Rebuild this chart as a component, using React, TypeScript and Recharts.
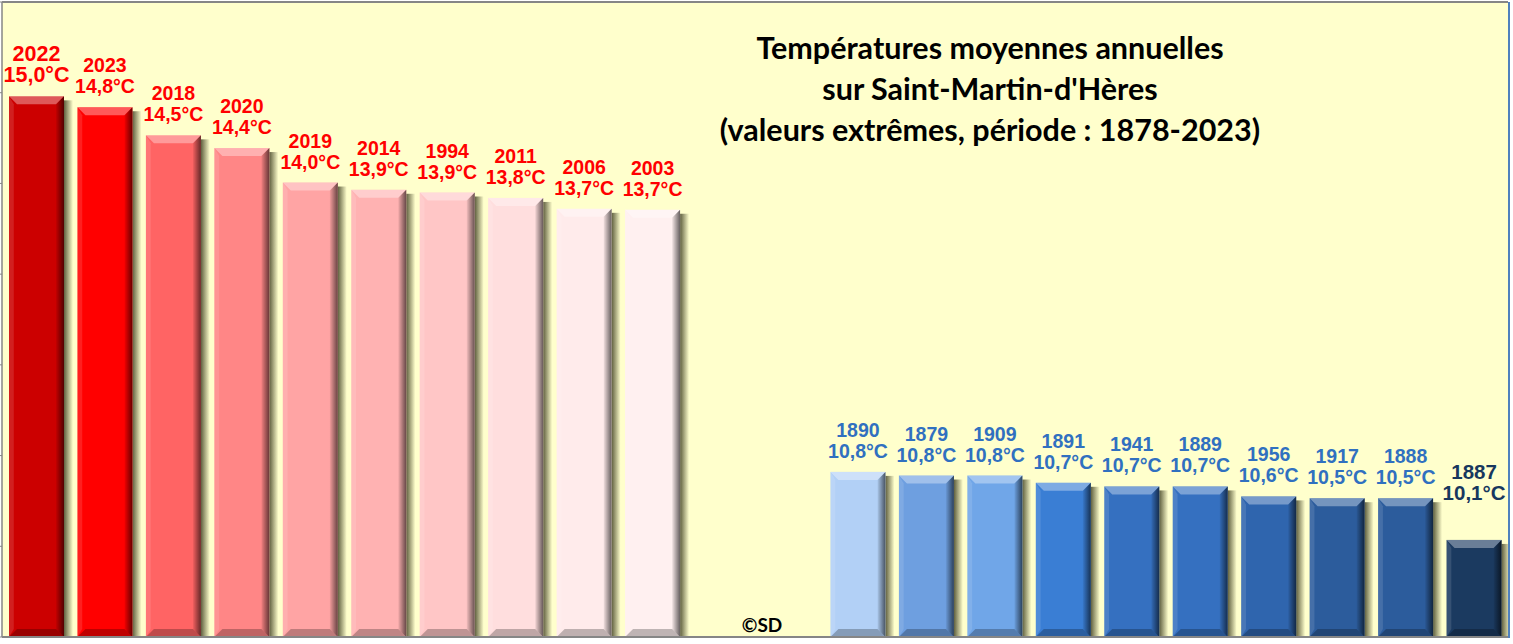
import {
  BarChart,
  Bar,
  XAxis,
  YAxis,
  CartesianGrid,
  Cell,
  LabelList,
  ReferenceLine,
} from "recharts";

// years ranked hottest -> coldest, two empty slots between the groups
const years = [
  "2022", "2023", "2018", "2020", "2019", "2014", "1994", "2011", "2006", "2003",
  "", "",
  "1890", "1879", "1909", "1891", "1941", "1889", "1956", "1917", "1888", "1887",
];

const temps = [
  14.96, 14.84, 14.53, 14.39, 14.01, 13.93, 13.9, 13.84, 13.72, 13.71,
  null, null,
  10.82, 10.78, 10.78, 10.7, 10.66, 10.66, 10.55, 10.53, 10.53, 10.07,
];

const tempLabels = [
  "15,0", "14,8", "14,5", "14,4", "14,0", "13,9", "13,9", "13,8", "13,7", "13,7",
  "", "",
  "10,8", "10,8", "10,8", "10,7", "10,7", "10,7", "10,6", "10,5", "10,5", "10,1",
];

const barColors = [
  "#CC0000", "#FF0000", "#FF6464", "#FF8686", "#FFA4A4", "#FFB2B2", "#FFC6C6", "#FFDEDE", "#FFEBEB", "#FFF0F0",
  "none", "none",
  "#B2D0F6", "#6E9FE0", "#70A6E8", "#3A7ED4", "#3570C0", "#3570C0", "#2F65AE", "#2C5C9C", "#2C5C9C", "#1B3A60",
];

const labelColors = [
  "#FF0000", "#FF0000", "#FF0000", "#FF0000", "#FF0000", "#FF0000", "#FF0000", "#FF0000", "#FF0000", "#FF0000",
  "none", "none",
  "#3070C0", "#3070C0", "#3070C0", "#3070C0", "#3070C0", "#3070C0", "#3070C0", "#3070C0", "#3070C0", "#17375E",
];

const yTicks = [9, 10, 11, 12, 13, 14, 15, 16];

const titleLines = [
  "Températures moyennes annuelles",
  "sur Saint-Martin-d'Hères",
  "(valeurs extrêmes, période : 1878-2023)",
];

const data = years.map((year, i) => ({
  key: year || `gap${i}`,
  temp: temps[i],
}));

const HOTTEST = 0;
const COLDEST = years.length - 1;

function BevelBar(props: any) {
  const { x, y, width: w, height: h, index, fill } = props;
  if (!h || h <= 0 || fill === "none") return null;
  const b = 8;
  const id = `sh${index}`;
  return (
    <g>
      <defs>
        <linearGradient id={id} x1="0" y1="0" x2="1" y2="0">
          <stop offset="0" stopColor="#2a2a10" stopOpacity={0.75} />
          <stop offset="1" stopColor="#2a2a10" stopOpacity={0} />
        </linearGradient>
        <linearGradient id={`${id}r`} x1="0" y1="0" x2="1" y2="0">
          <stop offset="0" stopColor="#000" stopOpacity={0.05} />
          <stop offset="1" stopColor="#000" stopOpacity={0.6} />
        </linearGradient>
      </defs>
      <rect x={x + w} y={y + 4} width={9} height={h - 4} fill={`url(#${id})`} />
      <rect x={x} y={y} width={w} height={h} fill={fill} />
      <polygon
        points={`${x},${y} ${x + w},${y} ${x + w - b},${y + b} ${x + b},${y + b}`}
        fill="#fff"
        fillOpacity={0.35}
      />
      <polygon
        points={`${x},${y} ${x + b * 0.6},${y + b} ${x + b * 0.6},${y + h - b} ${x},${y + h}`}
        fill="#fff"
        fillOpacity={0.12}
      />
      <polygon
        points={`${x + w},${y} ${x + w},${y + h} ${x + w - b},${y + h - b} ${x + w - b},${y + b}`}
        fill={`url(#${id}r)`}
      />
      <polygon
        points={`${x},${y + h} ${x + w},${y + h} ${x + w - b},${y + h - b} ${x + b},${y + h - b}`}
        fill="#000"
        fillOpacity={0.25}
      />
    </g>
  );
}

// LabelList skips the empty slots, so look the bar up by its year key
function TempLabel(props: any) {
  const { x, y, width, value } = props;
  const i = years.indexOf(String(value));
  if (i < 0 || !tempLabels[i]) return null;
  const cx = Number(x) + Number(width) / 2;
  const top = Number(y);
  const fs = i === HOTTEST ? 21.5 : i === COLDEST ? 20.5 : 19.5;
  const gap = i === COLDEST ? 40 : 14;
  return (
    <text
      textAnchor="middle"
      fill={labelColors[i]}
      fontFamily="'Liberation Sans', Arial, sans-serif"
      fontWeight="bold"
      fontSize={fs}
    >
      <tspan x={cx} y={top - gap - 21}>
        {years[i]}
      </tspan>
      <tspan x={cx} y={top - gap}>
        {tempLabels[i]}°C
      </tspan>
    </text>
  );
}

export default function App() {
  return (
    <div
      style={{
        position: "absolute",
        left: 0,
        top: 0,
        width: 1513,
        height: 644,
        background: "#fff",
      }}
    >
      <BarChart
        width={1513}
        height={644}
        data={data}
        margin={{ top: 2, right: 5, bottom: 6, left: 0 }}
      >
        <CartesianGrid fill="#FFFFCC" stroke="none" horizontal={false} vertical={false} />
        <XAxis
          dataKey="key"
          tick={false}
          tickLine={false}
          height={1}
          axisLine={{ stroke: "#868686", strokeWidth: 2 }}
        />
        <YAxis
          domain={[9, 16]}
          ticks={yTicks}
          allowDataOverflow
          width={2}
          tickSize={3}
          tickFormatter={() => ""}
          axisLine={{ stroke: "#868686", strokeWidth: 1.5 }}
          tickLine={{ stroke: "#868686" }}
        />
        <ReferenceLine y={16} stroke="#868686" strokeWidth={2} />
        <Bar dataKey="temp" barSize={55} shape={BevelBar} isAnimationActive={false}>
          {data.map((d, i) => (
            <Cell key={d.key} fill={barColors[i]} />
          ))}
          <LabelList dataKey="key" content={TempLabel} />
        </Bar>
      </BarChart>
      <div
        style={{
          position: "absolute",
          left: 1508,
          top: 2,
          width: 1.5,
          height: 636,
          background: "#4F81BD",
        }}
      />
      <div
        style={{
          position: "absolute",
          left: 640,
          top: 27,
          width: 700,
          textAlign: "center",
          fontFamily: "Lato, 'Open Sans', sans-serif",
          fontWeight: "bold",
          fontSize: 30.5,
          lineHeight: "41px",
          color: "#000",
        }}
      >
        {titleLines.map((t) => (
          <div key={t}>{t}</div>
        ))}
      </div>
      <div
        style={{
          position: "absolute",
          left: 712,
          top: 615,
          width: 100,
          textAlign: "center",
          fontFamily: "Lato, sans-serif",
          fontWeight: "bold",
          fontSize: 19,
          lineHeight: "20px",
          color: "#000",
        }}
      >
        ©SD
      </div>
    </div>
  );
}
